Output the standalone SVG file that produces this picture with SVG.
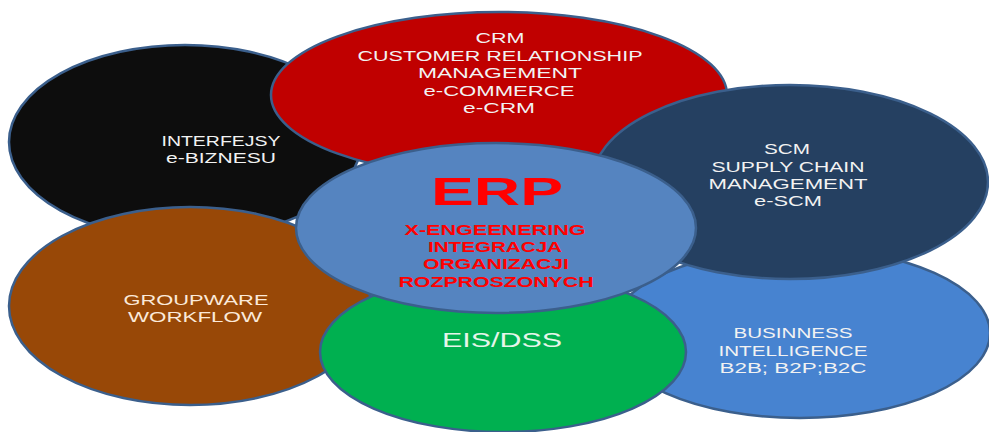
<svg xmlns="http://www.w3.org/2000/svg" width="989" height="432" viewBox="0 0 989 432">
<style>
.e{stroke:#3b5f8c;stroke-width:2.5}
.t{font-family:"Liberation Sans",Arial,sans-serif;font-size:15px;fill:#f2f2f2;text-anchor:middle}
.r{font-family:"Liberation Sans",Arial,sans-serif;font-weight:bold;fill:#ff0000;text-anchor:middle}
</style>
<rect width="989" height="432" fill="#ffffff"/>
<g id="interfejsy">
<ellipse class="e" cx="185" cy="142" rx="176" ry="97" fill="#0d0d0d"/>
<text class="t" x="221" y="146" textLength="119" lengthAdjust="spacingAndGlyphs">INTERFEJSY</text>
<text class="t" x="221" y="163" textLength="110" lengthAdjust="spacingAndGlyphs">e-BIZNESU</text>
</g>
<g id="crm">
<ellipse class="e" cx="499" cy="95" rx="228" ry="83" fill="#c00000"/>
<text class="t" x="500" y="43" textLength="49" lengthAdjust="spacingAndGlyphs">CRM</text>
<text class="t" x="500" y="61" textLength="285" lengthAdjust="spacingAndGlyphs">CUSTOMER RELATIONSHIP</text>
<text class="t" x="500" y="78" textLength="164" lengthAdjust="spacingAndGlyphs">MANAGEMENT</text>
<text class="t" x="499" y="96" textLength="151" lengthAdjust="spacingAndGlyphs">e-COMMERCE</text>
<text class="t" x="499" y="113" textLength="72" lengthAdjust="spacingAndGlyphs">e-CRM</text>
</g>
<g id="bi">
<ellipse class="e" cx="800" cy="333" rx="190" ry="85" fill="#4783d0"/>
<text class="t" x="793" y="338" textLength="119" lengthAdjust="spacingAndGlyphs">BUSINNESS</text>
<text class="t" x="793" y="356" textLength="149" lengthAdjust="spacingAndGlyphs">INTELLIGENCE</text>
<text class="t" x="793" y="373" textLength="147" lengthAdjust="spacingAndGlyphs">B2B; B2P;B2C</text>
</g>
<g id="scm">
<ellipse class="e" cx="790" cy="182" rx="198" ry="97" fill="#254061"/>
<text class="t" x="787" y="154" textLength="46" lengthAdjust="spacingAndGlyphs">SCM</text>
<text class="t" x="788" y="172" textLength="153" lengthAdjust="spacingAndGlyphs">SUPPLY CHAIN</text>
<text class="t" x="788" y="189" textLength="159" lengthAdjust="spacingAndGlyphs">MANAGEMENT</text>
<text class="t" x="788" y="206" textLength="68" lengthAdjust="spacingAndGlyphs">e-SCM</text>
</g>
<g id="groupware">
<ellipse class="e" cx="190" cy="306" rx="181" ry="99" fill="#984807"/>
<text class="t" x="196" y="305" textLength="145" lengthAdjust="spacingAndGlyphs" style="fill:#fbe9d9">GROUPWARE</text>
<text class="t" x="195" y="322" textLength="134" lengthAdjust="spacingAndGlyphs" style="fill:#fbe9d9">WORKFLOW</text>
</g>
<g id="eisdss">
<ellipse class="e" cx="503" cy="352" rx="183" ry="80" fill="#00b050"/>
<text class="t" x="502" y="347" textLength="120" lengthAdjust="spacingAndGlyphs" style="font-size:21px;fill:#e6f5ea">EIS/DSS</text>
</g>
<g id="erp">
<ellipse class="e" cx="496" cy="228" rx="200" ry="85" fill="#5584c0"/>
<text class="r" x="497" y="205" textLength="132" lengthAdjust="spacingAndGlyphs" style="font-size:39px">ERP</text>
<text class="r" x="495" y="235" textLength="181" lengthAdjust="spacingAndGlyphs" style="font-size:14px">X-ENGEENERING</text>
<text class="r" x="495" y="252" textLength="134" lengthAdjust="spacingAndGlyphs" style="font-size:14px">INTEGRACJA</text>
<text class="r" x="496" y="269" textLength="146" lengthAdjust="spacingAndGlyphs" style="font-size:14px">ORGANIZACJI</text>
<text class="r" x="496" y="287" textLength="195" lengthAdjust="spacingAndGlyphs" style="font-size:14px">ROZPROSZONYCH</text>
</g>
</svg>
